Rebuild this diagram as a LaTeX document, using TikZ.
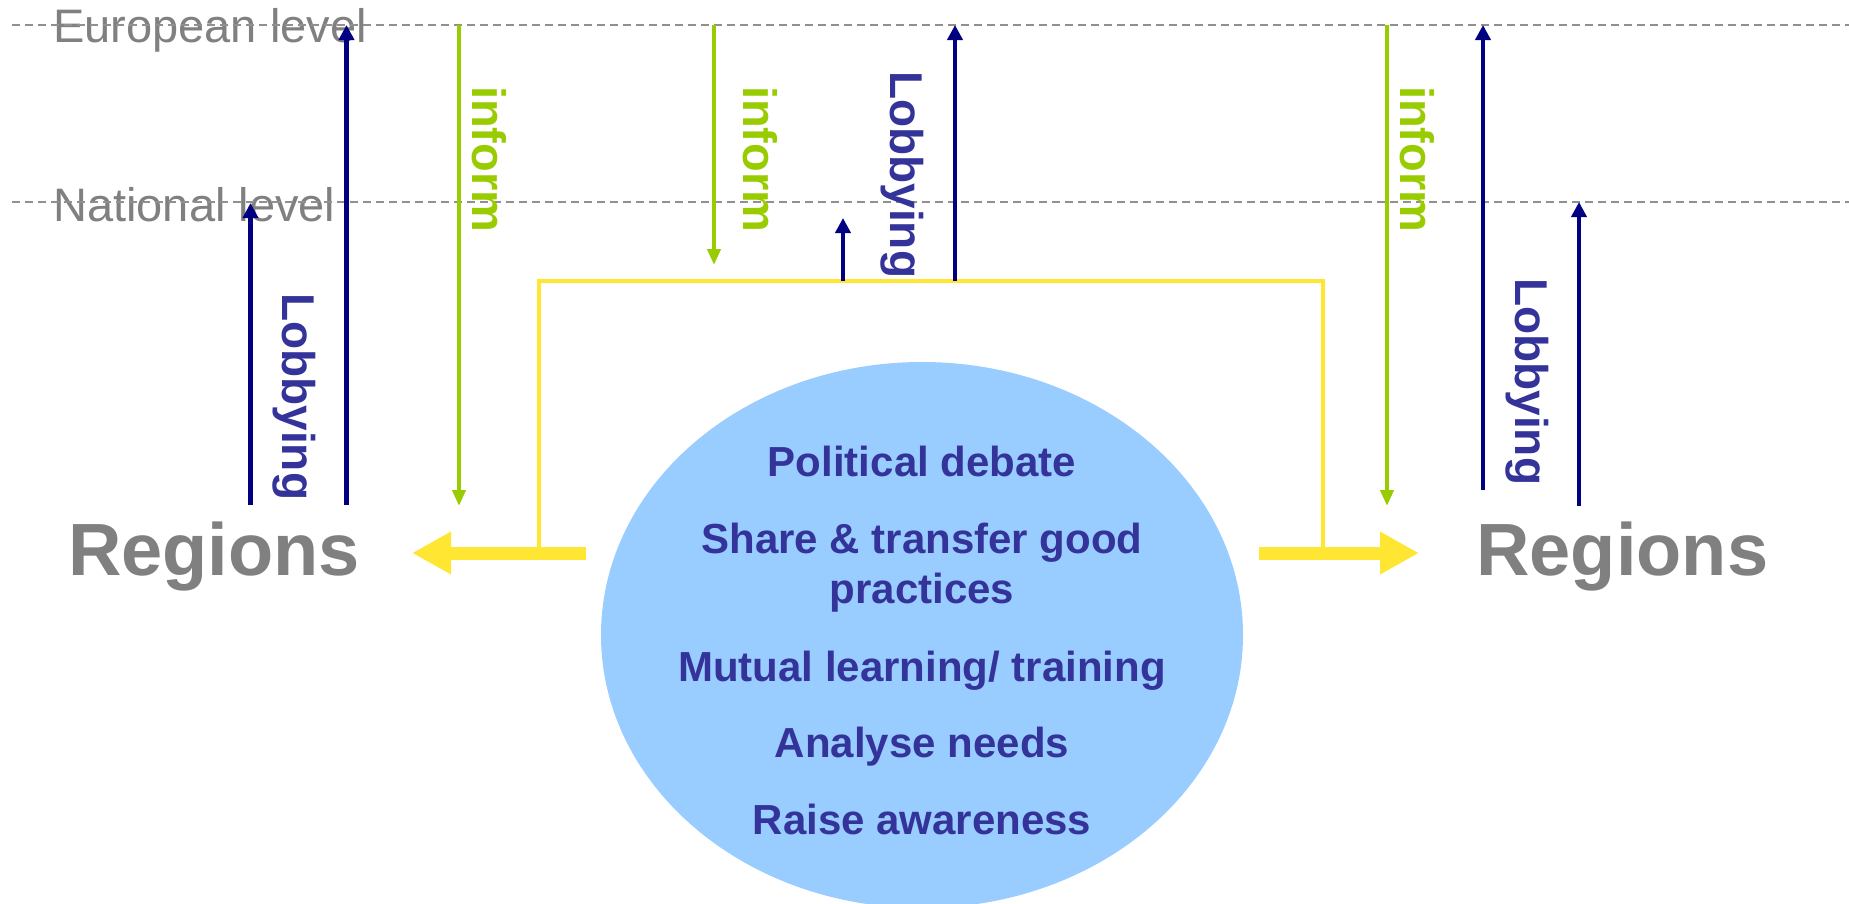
\documentclass[tikz,border=0pt]{standalone}
\usepackage{fontspec}
\setmainfont{Liberation Sans}
\usetikzlibrary{arrows.meta,shapes.geometric}
\definecolor{navyc}{HTML}{000080}
\definecolor{lobtxt}{HTML}{333399}
\definecolor{greenc}{HTML}{99CC00}
\definecolor{graytxt}{HTML}{808080}
\definecolor{dashgray}{HTML}{909090}
\definecolor{yellowc}{HTML}{FFE633}
\definecolor{hubblue}{HTML}{99CCFF}
\begin{document}
\begin{tikzpicture}[x=1pt,y=-1pt,
  lvl/.style={draw=dashgray, line width=2pt, dash pattern=on 8pt off 5pt},
  lvltxt/.style={font=\fontsize{47}{56}\selectfont, text=graytxt, inner sep=0pt, anchor=base west},
  regtxt/.style={font=\fontsize{74}{88}\selectfont\bfseries, text=graytxt, inner sep=0pt, anchor=base west},
  lobtext/.style={font=\fontsize{46}{55}\selectfont\bfseries, text=lobtxt, inner sep=0pt, rotate=-90, anchor=base west},
  inftext/.style={font=\fontsize{47}{56}\selectfont\bfseries, text=greenc, inner sep=0pt, rotate=-90, anchor=base west},
  hubtext/.style={font=\fontsize{42}{50}\selectfont\bfseries, text=lobtxt, inner sep=0pt, anchor=base},
  lob/.style={draw=navyc, line width=4.5pt, -{Triangle[length=15pt,width=15pt]}},
  inf/.style={draw=greenc, line width=4pt, -{Triangle[length=16pt,width=13pt]}},
  yel/.style={draw=yellowc, line width=4.5pt},
  fat/.style={draw=yellowc, line width=13pt, -{Triangle[length=39pt,width=40pt]}}
]
\useasboundingbox (0,0) rectangle (1849,903);

% level texts and dashed lines
\node[lvltxt] (eu) at (53,42) {European level};
\node[lvltxt] (nat) at (53,221) {National level};
\coordinate (euL) at (12,25);
\coordinate (euR) at (1849,25);
\coordinate (natL) at (12,202);
\coordinate (natR) at (1849,202);
\draw[lvl] (euL) -- (euR);
\draw[lvl] (natL) -- (natR);

% central ellipse
\node[ellipse, fill=hubblue, minimum width=642pt, minimum height=546pt, inner sep=0pt] (hub) at (922,635) {};
\node[hubtext] (t1) at (922,476) {Political debate};
\node[hubtext] (t2) at (922,553) {Share \& transfer good};
\node[hubtext] (t3) at (922,603.5) {practices};
\node[hubtext] (t4) at (922,681) {Mutual learning/ training};
\node[hubtext] (t5) at (922,757) {Analyse needs};
\node[hubtext] (t6) at (922,834) {Raise awareness};

% regions
\node[regtxt] (regL) at (68,575) {Regions};
\node[regtxt] (regR) at (1476,575) {Regions};

% yellow bracket and arrows
\coordinate (bL) at (539,553);
\coordinate (bLt) at (539,281);
\coordinate (bRt) at (1323,281);
\coordinate (bR) at (1323,553);
\draw[yel] (bL) -- (bLt) -- (bRt) -- (bR);
\coordinate (fLs) at (586,553);
\coordinate (fLe) at (412,553);
\coordinate (fRs) at (1259,553);
\coordinate (fRe) at (1419,553);
\draw[fat] (fLs) -- (fLe);
\draw[fat] (fRs) -- (fRe);

% left lobbying arrows
\coordinate (l1b) at (250.5,505);
\coordinate (l1t) at (250.5,203);
\coordinate (l2b) at (346.5,505);
\coordinate (l2t) at (346.5,25);
\draw[lob] (l1b) -- (l1t);
\draw[lob] (l2b) -- (l2t);
\node[lobtext] (lobL) at (282,293) {Lobbying};

% left inform
\coordinate (i1t) at (459,25);
\coordinate (i1b) at (459,506);
\draw[inf] (i1t) -- (i1b);
\node[inftext] (infL) at (472.5,86) {inform};

% center inform
\coordinate (i2t) at (714,25);
\coordinate (i2b) at (714,265);
\draw[inf] (i2t) -- (i2b);
\node[inftext] (infC) at (743,86) {inform};

% center lobbying
\coordinate (c1b) at (843,281);
\coordinate (c1t) at (843,218);
\coordinate (c2b) at (955,281);
\coordinate (c2t) at (955,25);
\draw[lob] (c1b) -- (c1t);
\draw[lob] (c2b) -- (c2t);
\node[lobtext] (lobC) at (890,71) {Lobbying};

% right inform
\coordinate (i3t) at (1387,25);
\coordinate (i3b) at (1387,506);
\draw[inf] (i3t) -- (i3b);
\node[inftext] (infR) at (1400,86) {inform};

% right lobbying
\coordinate (r1b) at (1483,490);
\coordinate (r1t) at (1483,25);
\coordinate (r2b) at (1579,506);
\coordinate (r2t) at (1579,202);
\draw[lob] (r1b) -- (r1t);
\draw[lob] (r2b) -- (r2t);
\node[lobtext] (lobR) at (1515,278) {Lobbying};
\end{tikzpicture}
\end{document}
